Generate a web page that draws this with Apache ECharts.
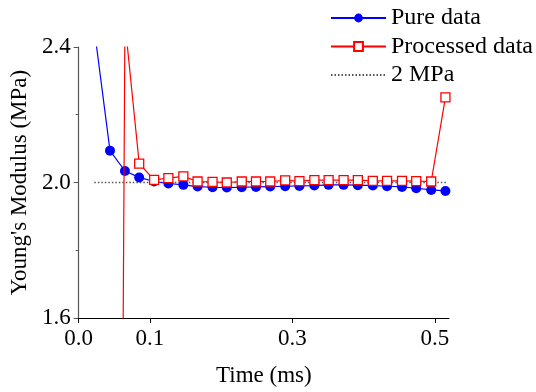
<!DOCTYPE html>
<html>
<head>
<meta charset="utf-8">
<script src="https://cdn.jsdelivr.net/npm/echarts@6/dist/echarts.min.js"></script>
<style>
html,body{margin:0;padding:0;background:#fff;}
#chart{width:536px;height:392px;}
</style>
</head>
<body>
<div id="chart"></div>
<script>
// Time (ms) for each sample
const times = [0.024, 0.044, 0.065, 0.085, 0.106, 0.126, 0.147, 0.167, 0.188, 0.208, 0.229, 0.249, 0.269, 0.290, 0.310, 0.331, 0.351, 0.372, 0.392, 0.413, 0.433, 0.454, 0.474, 0.495, 0.515];
// Young's modulus (MPa)
const pureData = [2.42, 2.094, 2.034, 2.015, 2.003, 1.997, 1.993, 1.988, 1.986, 1.985, 1.986, 1.987, 1.988, 1.989, 1.990, 1.991, 1.993, 1.993, 1.992, 1.991, 1.989, 1.987, 1.983, 1.978, 1.975];
const processedData = [null, -5.0, 2.473, 2.056, 2.008, 2.013, 2.018, 2.003, 2.002, 2.000, 2.003, 2.003, 2.003, 2.006, 2.004, 2.007, 2.007, 2.007, 2.007, 2.005, 2.005, 2.005, 2.004, 2.003, 2.251];
const referenceLevel = 2.0;
const referenceTimes = [0.022, 0.517];
const xTicks = [0.0, 0.1, 0.3, 0.5];
const seriesNames = ['Pure data', 'Processed data', '2 MPa'];

const pairs = (xs, ys) => xs.map((x, i) => ys[i] === null ? null : [x, ys[i]]).filter(p => p !== null);

const font = 'Liberation Serif';
const chart = echarts.init(document.getElementById('chart'), null, {renderer: 'canvas'});
chart.setOption({
  animation: false,
  backgroundColor: '#fff',
  textStyle: {fontFamily: font},
  grid: {left: 78, right: 87, top: 47, bottom: 70, containLabel: false},
  legend: {
    orient: 'vertical',
    left: 325,
    top: 1,
    itemWidth: 55,
    itemHeight: 11,
    itemGap: 4.5,
    textStyle: {fontFamily: font, fontSize: 24, color: '#000', lineHeight: 22},
    data: [
      {name: seriesNames[0]},
      {name: seriesNames[1]},
      {name: seriesNames[2], itemStyle: {opacity: 0}}
    ]
  },
  xAxis: {
    type: 'value',
    min: 0,
    max: 0.52,
    name: 'Time (ms)',
    nameLocation: 'middle',
    nameGap: 46,
    nameTextStyle: {fontFamily: font, fontSize: 23, color: '#000'},
    axisLine: {show: true, lineStyle: {color: '#000', width: 1.2}},
    axisTick: {show: true, length: 5, customValues: xTicks, lineStyle: {color: '#000'}},
    axisLabel: {customValues: xTicks, margin: 9, fontFamily: font, fontSize: 23, color: '#000',
      formatter: v => Number(v).toFixed(1)},
    splitLine: {show: false}
  },
  yAxis: {
    type: 'value',
    min: 1.6,
    max: 2.4,
    interval: 0.4,
    name: "Young's Modulus (MPa)",
    nameLocation: 'middle',
    nameGap: 37,
    nameTextStyle: {fontFamily: font, fontSize: 23, color: '#000'},
    axisLine: {show: true, lineStyle: {color: '#555', width: 1.2}},
    axisTick: {show: true, length: 5, lineStyle: {color: '#555'}},
    minorTick: {show: true, splitNumber: 2, length: 3, lineStyle: {color: '#555'}},
    axisLabel: {margin: 8, fontFamily: font, fontSize: 23, color: '#000',
      formatter: v => Number(v).toFixed(1)},
    splitLine: {show: false}
  },
  series: [
    {
      name: seriesNames[2],
      type: 'line',
      data: referenceTimes.map(t => [t, referenceLevel]),
      symbol: 'none',
      lineStyle: {color: '#555', width: 1.5, type: [1.5, 2]},
      itemStyle: {color: '#555'},
      z: 1
    },
    {
      name: seriesNames[0],
      type: 'line',
      data: pairs(times, pureData),
      symbol: 'circle',
      symbolSize: 10,
      clip: true,
      lineStyle: {color: '#0000ff', width: 1.2},
      itemStyle: {color: '#0000ff'},
      z: 2
    },
    {
      name: seriesNames[1],
      type: 'line',
      data: pairs(times, processedData),
      symbol: 'rect',
      symbolSize: 9,
      clip: true,
      lineStyle: {color: '#ff0000', width: 1.2},
      itemStyle: {color: '#fff', borderColor: '#ff0000', borderWidth: 1.3},
      z: 3
    }
  ]
});
</script>
</body>
</html>
